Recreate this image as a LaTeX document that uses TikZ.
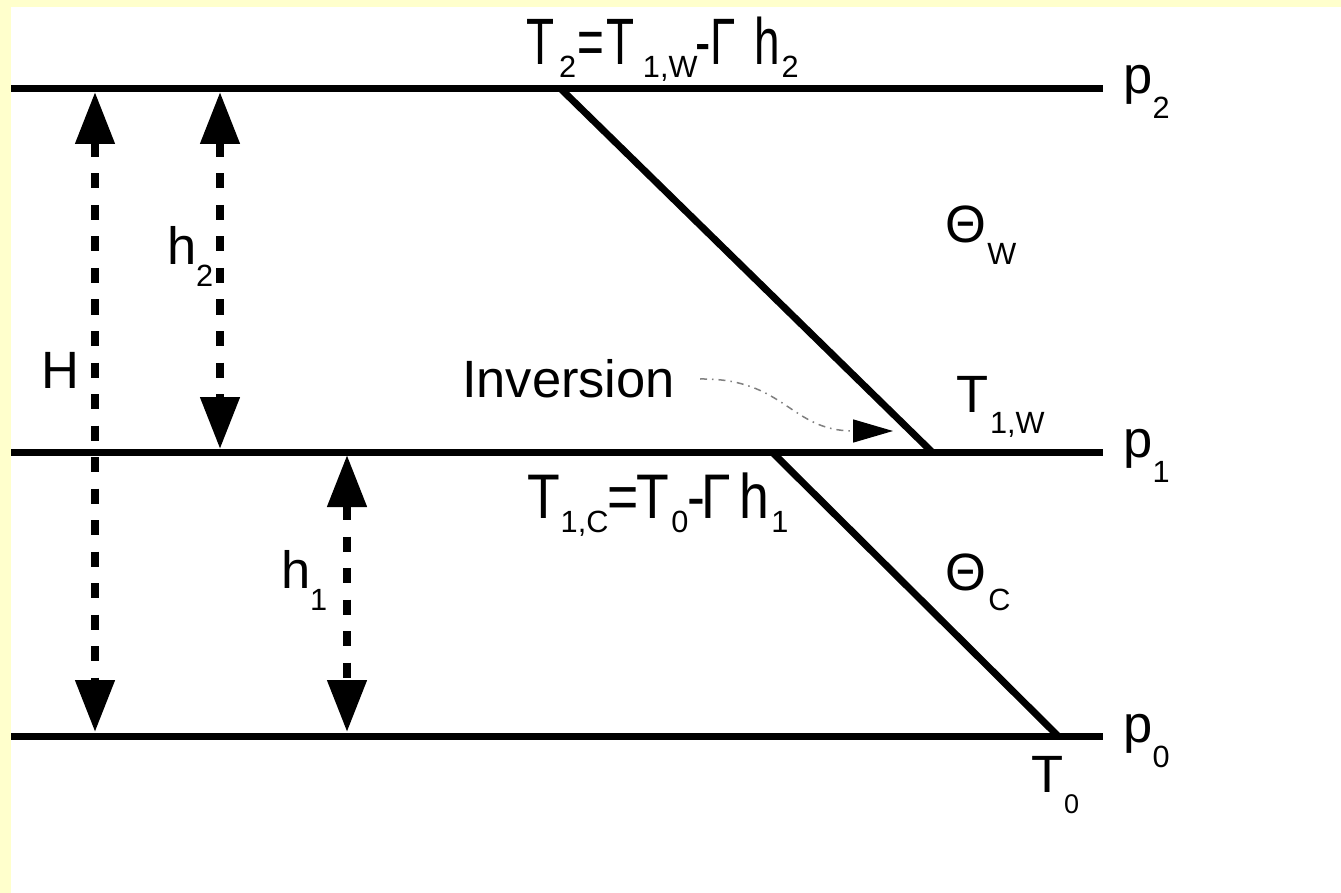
\documentclass[tikz,border=0pt]{standalone}
\usepackage{fontspec}
\setmainfont{Liberation Sans}
\usetikzlibrary{arrows.meta}
\definecolor{bandyellow}{HTML}{FFFFCC}
\definecolor{curvegray}{HTML}{808080}
\newcommand\lbl[1]{{\fontsize{52.5}{56}\selectfont #1}}
\newcommand\lsub[2][22pt]{\raisebox{-#1}{\fontsize{30.7}{32}\selectfont #2}}
\newcommand\ssub[2][22pt]{\raisebox{-#1}{\fontsize{27}{28}\selectfont #2}}
\newcommand\fma[1]{\scalebox{0.7}[1]{\fontsize{65.6}{70}\selectfont #1}}
\newcommand\fmb[1]{\scalebox{0.85}[1]{\fontsize{63}{68}\selectfont #1}}
\tikzset{
  level/.style={line width=7pt},
  slant/.style={line width=7pt},
  dimarrow/.style={line width=8pt, dash pattern=on 15pt off 16.5pt,
    {Triangle[width=38pt,length=52pt]}-{Triangle[width=38pt,length=52pt]}},
  txt/.style={anchor=base west, inner sep=0pt, outer sep=0pt},
  pointer/.style={line width=1.5pt, curvegray, dash pattern=on 7pt off 5pt on 1.5pt off 5pt,
    -{Triangle[width=23pt,length=40pt,black]}}
}
\begin{document}
\begin{tikzpicture}[x=1pt,y=-1pt]
\useasboundingbox (0,0) rectangle (1341,893);
\fill[white] (0,0) rectangle (1341,893);
\fill[bandyellow] (0,0) rectangle (1341,7);
\fill[bandyellow] (0,0) rectangle (11,893);
% level lines
\coordinate (p2L) at (11,89);   \coordinate (p2R) at (1103,89);
\coordinate (p1L) at (11,452);  \coordinate (p1R) at (1103,452);
\coordinate (p0L) at (11,736);  \coordinate (p0R) at (1103,736);
\draw[level] (p2L) -- (p2R);
\draw[level] (p1L) -- (p1R);
\draw[level] (p0L) -- (p0R);
% temperature profiles
\coordinate (wTop) at (561,89);  \coordinate (wBot) at (932,452);
\coordinate (cTop) at (772,452); \coordinate (cBot) at (1058,736);
\draw[slant] (wTop) -- (wBot);
\draw[slant] (cTop) -- (cBot);
% dimension arrows
\coordinate (Ht) at (95,92);   \coordinate (Hb) at (95,732);
\coordinate (h2t) at (220,92); \coordinate (h2b) at (220,449);
\coordinate (h1t) at (347,455);\coordinate (h1b) at (347,732);
\draw[dimarrow] (Ht) -- (Hb);
\draw[dimarrow] (h2t) -- (h2b);
\draw[dimarrow] (h1t) -- (h1b);
% labels
\node[txt] (H) at (41,388) {\lbl{H}};
\node[txt] (h2) at (167,265) {\lbl{h}\lsub{2}};
\node[txt] (h1) at (281,588) {\lbl{h}\lsub{1}};
\node[txt] (thw) at (945.5,243) {\lbl{Θ}\kern1pt\lsub{W}};
\node[txt] (thc) at (945.5,590) {\lbl{Θ}\kern2pt\lsub[20pt]{C}};
\node[txt] (t1w) at (956,412) {\lbl{T}\kern2pt\lsub[21pt]{1,W}};
\node[txt] (p2) at (1123.5,94) {\lbl{p}\lsub[25pt]{2}};
\node[txt] (p1) at (1123.5,457) {\lbl{p}\lsub[25pt]{1}};
\node[txt] (p0) at (1123.5,742) {\lbl{p}\lsub[25pt]{0}};
\node[txt] (t0) at (1031,792) {\lbl{T}\kern1pt\ssub[21pt]{0}};
\node[txt] (inv) at (462,397) {\lbl{Inversion}};
\node[txt] (ft2) at (526,65) {\fma{T}\kern5pt\lsub[13pt]{2}\kern1pt\fma{=}\kern3pt\fma{T}\kern8pt\lsub[13pt]{1,W}\kern-2pt\fma{-Γ}\kern18pt\fma{h}\kern2pt\lsub[13pt]{2}};
\node[txt] (ft1c) at (527,518) {\fmb{T}\kern1pt\lsub[14pt]{1,C}\kern-1pt\fmb{=}\kern-2pt\fmb{T}\kern2pt\lsub[14pt]{0}\kern-1pt\fmb{-}\kern-4pt\fmb{Γ}\kern8.3pt\fmb{h}\kern2.4pt\lsub[14pt]{1}};
% inversion pointer
\coordinate (ptrS) at (700,379);
\coordinate (ptrE) at (893,431);
\draw[pointer] (ptrS) .. controls (785,378) and (790,431) .. (ptrE);
\end{tikzpicture}
\end{document}
